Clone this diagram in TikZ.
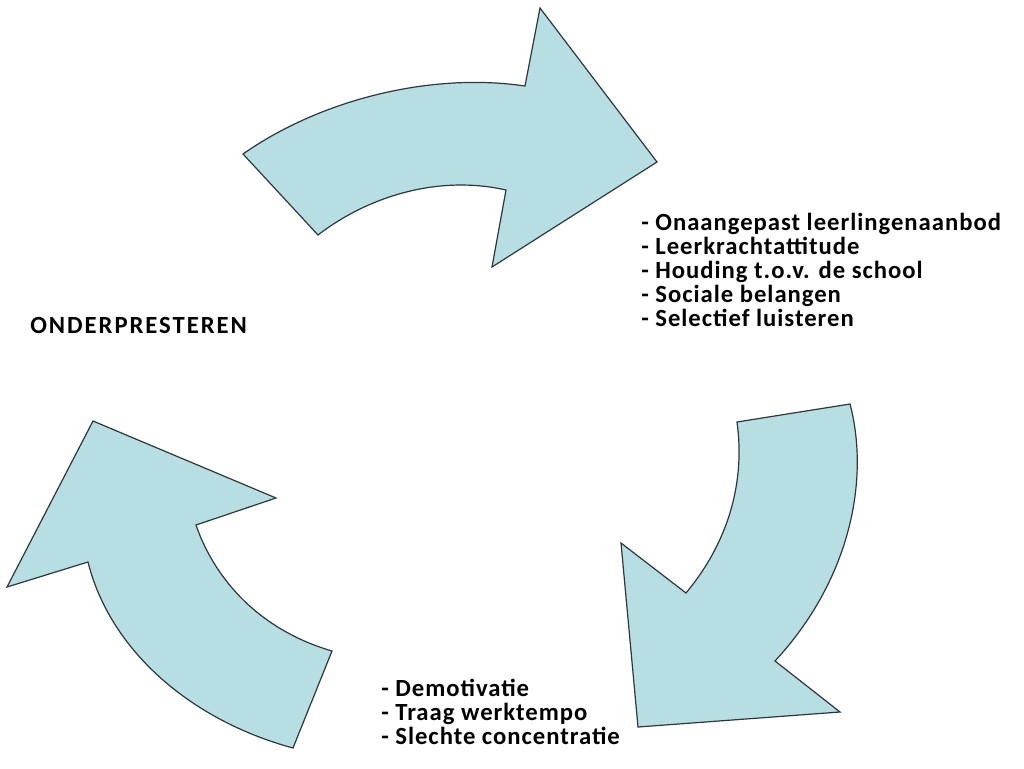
\documentclass[tikz,border=0pt]{standalone}
\usepackage{fontspec}
\setmainfont{Carlito}
\definecolor{arrowfill}{RGB}{183,222,226}
\definecolor{arrowline}{RGB}{45,55,60}
\tikzset{
  bend arrow/.style={fill=arrowfill, draw=arrowline, line width=0.9pt, line join=miter},
  cause list/.style={anchor=west, align=left, inner sep=0pt, font=\fontsize{18.5}{18}\selectfont\bfseries\addfontfeature{LetterSpace=4}}
}
\begin{document}
\begin{tikzpicture}[x=0.75pt, y=-0.75pt]
  \useasboundingbox (0,0) rectangle (1024,768);
  % top arrow, pointing right
  \draw[bend arrow] (243,154) .. controls (320,100) and (430,72) .. (525,86)
    -- (540,8) -- (657,162) -- (492,267) -- (506,190)
    .. controls (440,175) and (370,195) .. (318,235) -- cycle;
  % right arrow, pointing down
  \draw[bend arrow] (737,422) -- (850,404)
    .. controls (870,480) and (850,580) .. (775,661)
    -- (840,712) -- (638,727) -- (621,543) -- (686,593)
    .. controls (730,540) and (745,480) .. cycle;
  % left arrow, pointing up
  \draw[bend arrow] (332,651) -- (293,748)
    .. controls (190,720) and (110,650) .. (88,562)
    -- (7,587) -- (93,421) -- (276,498) -- (196,525)
    .. controls (215,580) and (260,630) .. cycle;
  \node[cause list] (title) at (30,325) {\addfontfeature{LetterSpace=8}ONDERPRESTEREN};
  \node[cause list] (school) at (641,270) {- Onaangepast leerlingenaanbod\\- Leerkrachtattitude\\- Houding t.o.v. de school\\- Sociale belangen\\- Selectief luisteren};
  \node[cause list] (pupil) at (381,712) {- Demotivatie\\- Traag werktempo\\- Slechte concentratie};
\end{tikzpicture}
\end{document}
